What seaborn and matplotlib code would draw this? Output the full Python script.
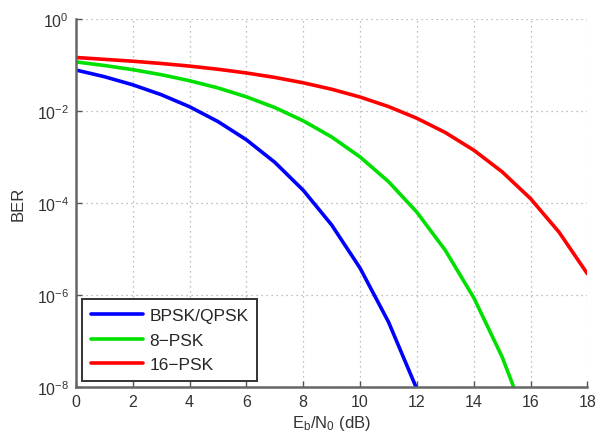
import pandas as pd
import matplotlib
matplotlib.use("Agg")
import matplotlib.pyplot as plt
import seaborn as sns

# Eb/N0 points (dB) and BER values
ebn0_bpsk = [0, 1, 2, 3, 4, 5, 6, 7, 8, 9, 10, 11, 12]
ber_bpsk = [7.86e-2, 5.63e-2, 3.75e-2, 2.29e-2, 1.25e-2, 5.95e-3, 2.39e-3,
            7.73e-4, 1.91e-4, 3.36e-5, 3.87e-6, 2.61e-7, 9.0e-9]

ebn0_8psk = [0, 1, 2, 3, 4, 5, 6, 7, 8, 9, 10, 11, 12, 13, 14, 15, 16]
ber_8psk = [0.118, 0.0985, 0.0800, 0.0622, 0.0460, 0.0320, 0.0205, 0.0120,
            6.18e-3, 2.75e-3, 1.01e-3, 2.94e-4, 6.34e-5, 9.4e-6, 8.8e-7,
            4.5e-8, 1.1e-9]

ebn0_16psk = [0, 1, 2, 3, 4, 5, 6, 7, 8, 9, 10, 11, 12, 13, 14, 15, 16, 17, 18]
ber_16psk = [0.147, 0.134, 0.122, 0.109, 0.0955, 0.0816, 0.0677, 0.0542,
             0.0414, 0.0300, 0.0203, 0.0126, 7.0e-3, 3.43e-3, 1.42e-3,
             4.79e-4, 1.25e-4, 2.34e-5, 2.9e-6]

labels = ["BPSK/QPSK", "8\u2212PSK", "16\u2212PSK"]
colors = ["#0000ff", "#00e000", "#ff0000"]

# long format table for seaborn
frames = []
for lab, xs, ys in zip(labels, [ebn0_bpsk, ebn0_8psk, ebn0_16psk],
                       [ber_bpsk, ber_8psk, ber_16psk]):
    frames.append(pd.DataFrame({"EbN0": xs, "BER": ys, "Scheme": lab}))
df = pd.concat(frames, ignore_index=True)

sns.set_theme(style="white")
plt.rcParams["font.family"] = ["Liberation Sans", "DejaVu Sans"]
plt.rcParams["mathtext.default"] = "regular"

fig = plt.figure(figsize=(5.97, 4.39), dpi=100)
ax = fig.add_axes([0.127, 0.116, 0.857, 0.838])

sns.lineplot(data=df, x="EbN0", y="BER", hue="Scheme", hue_order=labels,
             palette=colors, linewidth=2.6, ax=ax, sort=False)

ax.set_yscale("log")
ax.set_xlim(0, 18)
ax.set_ylim(1e-8, 1)
ax.set_xticks(range(0, 19, 2))
ax.set_yticks([1e-8, 1e-6, 1e-4, 1e-2, 1e0])
ax.minorticks_off()

ax.grid(True, linestyle=(0, (1, 3)), color="#aaaaaa", linewidth=0.9)
for side in ["top", "right"]:
    ax.spines[side].set_visible(False)
for side in ["left", "bottom"]:
    ax.spines[side].set_color("#666666")
    ax.spines[side].set_linewidth(1.8)
ax.tick_params(direction="in", length=4, width=1, colors="#555555",
               labelcolor="#333333", labelsize=11.5, left=True, bottom=True,
               pad=5)

ax.set_xlabel("E$_b$/N$_0$ (dB)", fontsize=12, color="#333333", labelpad=3)
ax.set_ylabel("BER", fontsize=12, color="#333333", labelpad=8)

leg = ax.legend(loc="lower left", fontsize=12.5, frameon=True, fancybox=False,
                borderaxespad=0.35, handlelength=3.0, handletextpad=0.4,
                labelspacing=0.55, borderpad=0.5)
leg.get_frame().set_edgecolor("#333333")
leg.get_frame().set_linewidth(1.4)
leg.get_frame().set_alpha(1)
for line in leg.get_lines():
    line.set_linewidth(2.6)

fig.savefig("out.png", dpi=100)
